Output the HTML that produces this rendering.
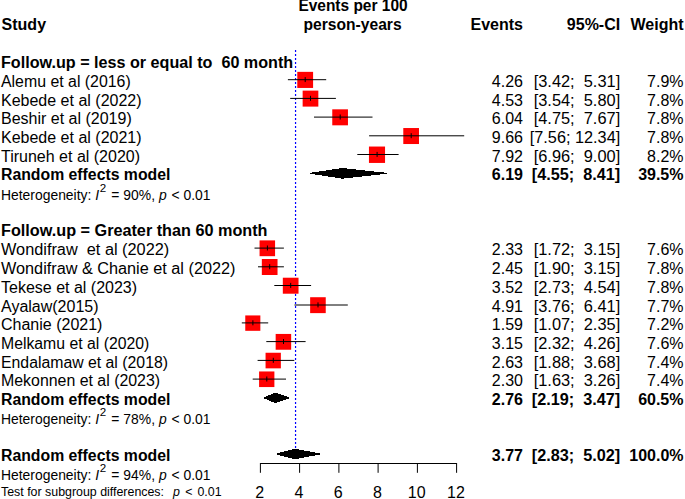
<!DOCTYPE html>
<html><head><meta charset="utf-8"><title>Forest plot</title>
<style>
html,body{margin:0;padding:0;background:#fff;}
svg{display:block;}
text{font-family:"Liberation Sans",Arial,sans-serif;font-size:16px;fill:#000;white-space:pre;}
.b{font-weight:bold;}
.e{text-anchor:end;}
.m{text-anchor:middle;}
.h{font-size:13.9px;}
.t{font-size:12.4px;}
.i{font-style:italic;}
</style></head><body>
<svg width="685" height="499" viewBox="0 0 685 499">
<rect width="685" height="499" fill="#fff"/>
<line x1="295.55" y1="50" x2="295.55" y2="456" stroke="#0000ff" stroke-width="1.2" stroke-dasharray="2 2"/>
<text class="b" x="298.4" y="11.1" textLength="109.2" lengthAdjust="spacingAndGlyphs">Events per 100</text>
<text class="b" x="303.6" y="30.00" textLength="98" lengthAdjust="spacingAndGlyphs">person-years</text>
<text class="b" x="1.6" y="30.00">Study</text>
<text class="b e" x="523.0" y="30.00">Events</text>
<text class="b e" x="620.2" y="30.00">95%-CI</text>
<text class="b e" x="683.5" y="30.00">Weight</text>
<text class="b" x="1.0" y="68.00" textLength="292.17" lengthAdjust="spacingAndGlyphs">Follow.up = less or equal to  60 month</text>
<text x="1.0" y="87.00" textLength="129.73" lengthAdjust="spacingAndGlyphs">Alemu et al (2016)</text>
<text class="e" x="523.0" y="87.00">4.26</text>
<text class="e" x="620.2" y="87.00" textLength="86.50" lengthAdjust="spacingAndGlyphs">[3.42;  5.31]</text>
<text class="e" x="683.5" y="87.00">7.9%</text>
<rect x="297.29" y="71.85" width="15.80" height="16.10" fill="#ff0000"/>
<line x1="287.9" y1="79.7" x2="326.2" y2="79.7" stroke="#000" stroke-width="1"/>
<line x1="305.2" y1="77.1" x2="305.2" y2="82.1" stroke="#000" stroke-width="1"/>
<text x="1.0" y="106.00">Kebede et al (2022)</text>
<text class="e" x="523.0" y="106.00">4.53</text>
<text class="e" x="620.2" y="106.00" textLength="86.50" lengthAdjust="spacingAndGlyphs">[3.54;  5.80]</text>
<text class="e" x="683.5" y="106.00">7.8%</text>
<rect x="302.64" y="90.61" width="15.70" height="16.00" fill="#ff0000"/>
<line x1="290.2" y1="98.4" x2="335.9" y2="98.4" stroke="#000" stroke-width="1"/>
<line x1="310.5" y1="95.8" x2="310.5" y2="100.8" stroke="#000" stroke-width="1"/>
<text x="1.0" y="124.00">Beshir et al (2019)</text>
<text class="e" x="523.0" y="124.00">6.04</text>
<text class="e" x="620.2" y="124.00" textLength="86.50" lengthAdjust="spacingAndGlyphs">[4.75;  7.67]</text>
<text class="e" x="683.5" y="124.00">7.8%</text>
<rect x="332.26" y="109.32" width="15.70" height="16.00" fill="#ff0000"/>
<line x1="314.0" y1="117.1" x2="372.5" y2="117.1" stroke="#000" stroke-width="1"/>
<line x1="340.2" y1="114.5" x2="340.2" y2="119.5" stroke="#000" stroke-width="1"/>
<text x="1.0" y="143.00">Kebede et al (2021)</text>
<text class="e" x="523.0" y="143.00">9.66</text>
<text class="e" x="620.2" y="143.00" textLength="90.40" lengthAdjust="spacingAndGlyphs">[7.56; 12.34]</text>
<text class="e" x="683.5" y="143.00">7.8%</text>
<rect x="403.29" y="128.03" width="15.70" height="16.00" fill="#ff0000"/>
<line x1="369.1" y1="135.8" x2="464.2" y2="135.8" stroke="#000" stroke-width="1"/>
<line x1="411.2" y1="133.2" x2="411.2" y2="138.2" stroke="#000" stroke-width="1"/>
<text x="1.0" y="162.00">Tiruneh et al (2020)</text>
<text class="e" x="523.0" y="162.00">7.92</text>
<text class="e" x="620.2" y="162.00" textLength="86.50" lengthAdjust="spacingAndGlyphs">[6.96;  9.00]</text>
<text class="e" x="683.5" y="162.00">8.2%</text>
<rect x="368.95" y="146.54" width="16.10" height="16.40" fill="#ff0000"/>
<line x1="357.3" y1="154.5" x2="398.6" y2="154.5" stroke="#000" stroke-width="1"/>
<line x1="377.1" y1="151.9" x2="377.1" y2="156.9" stroke="#000" stroke-width="1"/>
<text class="b" x="1.0" y="180.00" textLength="169.39" lengthAdjust="spacingAndGlyphs">Random effects model</text>
<text class="b e" x="523.0" y="180.00">6.19</text>
<text class="b e" x="620.2" y="180.00" textLength="88.35" lengthAdjust="spacingAndGlyphs">[4.55;  8.41]</text>
<text class="b e" x="683.5" y="180.00">39.5%</text>
<polygon points="310.4,173.3 342.6,168.5 386.2,173.3 342.6,178.2" fill="#000" stroke="#000" stroke-width="1" stroke-linejoin="round" shape-rendering="crispEdges"/>
<text class="h" x="1.0" y="200.00">Heterogeneity: <tspan class="i">I</tspan><tspan dy="-8.4" dx="0.8" font-size="11.6">2</tspan><tspan dy="8.4" dx="1.2"> = 90%, </tspan><tspan class="i">p</tspan><tspan dx="1"> &lt; 0.01</tspan></text>
<text class="b" x="1.0" y="236.00" textLength="266.50" lengthAdjust="spacingAndGlyphs">Follow.up = Greater than 60 month</text>
<text x="1.0" y="255.00" textLength="168.22" lengthAdjust="spacingAndGlyphs">Wondifraw  et al (2022)</text>
<text class="e" x="523.0" y="255.00">2.33</text>
<text class="e" x="620.2" y="255.00" textLength="86.50" lengthAdjust="spacingAndGlyphs">[1.72;  3.15]</text>
<text class="e" x="683.5" y="255.00">7.6%</text>
<rect x="259.57" y="240.39" width="15.50" height="15.80" fill="#ff0000"/>
<line x1="254.5" y1="248.1" x2="283.9" y2="248.1" stroke="#000" stroke-width="1"/>
<line x1="267.4" y1="245.5" x2="267.4" y2="250.5" stroke="#000" stroke-width="1"/>
<text x="1.0" y="274.00" textLength="234.44" lengthAdjust="spacingAndGlyphs">Wondifraw &amp; Chanie et al (2022)</text>
<text class="e" x="523.0" y="274.00">2.45</text>
<text class="e" x="620.2" y="274.00" textLength="86.50" lengthAdjust="spacingAndGlyphs">[1.90;  3.15]</text>
<text class="e" x="683.5" y="274.00">7.8%</text>
<rect x="261.83" y="259.00" width="15.70" height="16.00" fill="#ff0000"/>
<line x1="258.0" y1="266.8" x2="283.9" y2="266.8" stroke="#000" stroke-width="1"/>
<line x1="269.7" y1="264.2" x2="269.7" y2="269.2" stroke="#000" stroke-width="1"/>
<text x="1.0" y="293.00">Tekese et al (2023)</text>
<text class="e" x="523.0" y="293.00">3.52</text>
<text class="e" x="620.2" y="293.00" textLength="86.50" lengthAdjust="spacingAndGlyphs">[2.73;  4.54]</text>
<text class="e" x="683.5" y="293.00">7.8%</text>
<rect x="282.82" y="277.71" width="15.70" height="16.00" fill="#ff0000"/>
<line x1="274.3" y1="285.5" x2="311.1" y2="285.5" stroke="#000" stroke-width="1"/>
<line x1="290.7" y1="282.9" x2="290.7" y2="287.9" stroke="#000" stroke-width="1"/>
<text x="1.0" y="312.00">Ayalaw(2015)</text>
<text class="e" x="523.0" y="312.00">4.91</text>
<text class="e" x="620.2" y="312.00" textLength="86.50" lengthAdjust="spacingAndGlyphs">[3.76;  6.41]</text>
<text class="e" x="683.5" y="312.00">7.7%</text>
<rect x="310.14" y="297.22" width="15.60" height="15.90" fill="#ff0000"/>
<line x1="294.5" y1="305.0" x2="347.8" y2="305.0" stroke="#000" stroke-width="1"/>
<line x1="318.0" y1="302.4" x2="318.0" y2="307.4" stroke="#000" stroke-width="1"/>
<text x="1.0" y="330.00">Chanie (2021)</text>
<text class="e" x="523.0" y="330.00">1.59</text>
<text class="e" x="620.2" y="330.00" textLength="86.50" lengthAdjust="spacingAndGlyphs">[1.07;  2.35]</text>
<text class="e" x="683.5" y="330.00">7.2%</text>
<rect x="245.26" y="315.43" width="15.09" height="15.39" fill="#ff0000"/>
<line x1="241.8" y1="322.9" x2="268.2" y2="322.9" stroke="#000" stroke-width="1"/>
<line x1="252.9" y1="320.3" x2="252.9" y2="325.3" stroke="#000" stroke-width="1"/>
<text x="1.0" y="349.00" textLength="148.30" lengthAdjust="spacingAndGlyphs">Melkamu et al (2020)</text>
<text class="e" x="523.0" y="349.00">3.15</text>
<text class="e" x="620.2" y="349.00" textLength="86.50" lengthAdjust="spacingAndGlyphs">[2.32;  4.26]</text>
<text class="e" x="683.5" y="349.00">7.6%</text>
<rect x="275.66" y="333.94" width="15.50" height="15.80" fill="#ff0000"/>
<line x1="266.3" y1="341.6" x2="305.6" y2="341.6" stroke="#000" stroke-width="1"/>
<line x1="283.5" y1="339.0" x2="283.5" y2="344.0" stroke="#000" stroke-width="1"/>
<text x="1.0" y="368.00" textLength="166.98" lengthAdjust="spacingAndGlyphs">Endalamaw et al (2018)</text>
<text class="e" x="523.0" y="368.00">2.63</text>
<text class="e" x="620.2" y="368.00" textLength="86.50" lengthAdjust="spacingAndGlyphs">[1.88;  3.68]</text>
<text class="e" x="683.5" y="368.00">7.4%</text>
<rect x="265.56" y="352.75" width="15.30" height="15.60" fill="#ff0000"/>
<line x1="257.6" y1="360.4" x2="294.3" y2="360.4" stroke="#000" stroke-width="1"/>
<line x1="273.3" y1="357.8" x2="273.3" y2="362.8" stroke="#000" stroke-width="1"/>
<text x="1.0" y="386.00" textLength="159.11" lengthAdjust="spacingAndGlyphs">Mekonnen et al (2023)</text>
<text class="e" x="523.0" y="386.00">2.30</text>
<text class="e" x="620.2" y="386.00" textLength="86.50" lengthAdjust="spacingAndGlyphs">[1.63;  3.26]</text>
<text class="e" x="683.5" y="386.00">7.4%</text>
<rect x="259.09" y="371.46" width="15.30" height="15.60" fill="#ff0000"/>
<line x1="252.7" y1="379.1" x2="286.0" y2="379.1" stroke="#000" stroke-width="1"/>
<line x1="266.8" y1="376.5" x2="266.8" y2="381.5" stroke="#000" stroke-width="1"/>
<text class="b" x="1.0" y="405.00" textLength="169.39" lengthAdjust="spacingAndGlyphs">Random effects model</text>
<text class="b e" x="523.0" y="405.00">2.76</text>
<text class="b e" x="620.2" y="405.00" textLength="88.35" lengthAdjust="spacingAndGlyphs">[2.19;  3.47]</text>
<text class="b e" x="683.5" y="405.00">60.5%</text>
<polygon points="264.1,397.9 275.3,393.1 289.2,397.9 275.3,402.7" fill="#000" stroke="#000" stroke-width="1" stroke-linejoin="round" shape-rendering="crispEdges"/>
<text class="h" x="1.0" y="424.00">Heterogeneity: <tspan class="i">I</tspan><tspan dy="-8.4" dx="0.8" font-size="11.6">2</tspan><tspan dy="8.4" dx="1.2"> = 78%, </tspan><tspan class="i">p</tspan><tspan dx="1"> &lt; 0.01</tspan></text>
<text class="b" x="1.0" y="461.00" textLength="169.39" lengthAdjust="spacingAndGlyphs">Random effects model</text>
<text class="b e" x="523.0" y="461.00">3.77</text>
<text class="b e" x="620.2" y="461.00" textLength="88.35" lengthAdjust="spacingAndGlyphs">[2.83;  5.02]</text>
<text class="b e" x="683.5" y="461.00">100.0%</text>
<polygon points="276.7,454.0 295.1,449.2 319.7,454.0 295.1,458.8" fill="#000" stroke="#000" stroke-width="1" stroke-linejoin="round" shape-rendering="crispEdges"/>
<text class="h" x="1.0" y="480.00">Heterogeneity: <tspan class="i">I</tspan><tspan dy="-8.4" dx="0.8" font-size="11.6">2</tspan><tspan dy="8.4" dx="1.2"> = 94%, </tspan><tspan class="i">p</tspan><tspan dx="1"> &lt; 0.01</tspan></text>
<text class="t" x="1.0" y="496.00">Test for subgroup differences:  <tspan class="i" dx="2">p</tspan><tspan dx="2"> &lt;</tspan><tspan dx="1.5"> 0.01</tspan></text>
<path d="M260.4 463.5H456.6" stroke="#000" stroke-width="1" fill="none"/>
<line x1="260.4" y1="463" x2="260.4" y2="472.8" stroke="#000" stroke-width="1"/>
<text class="m" x="259.7" y="497.6">2</text>
<line x1="299.6" y1="463" x2="299.6" y2="472.8" stroke="#000" stroke-width="1"/>
<text class="m" x="298.9" y="497.6">4</text>
<line x1="338.9" y1="463" x2="338.9" y2="472.8" stroke="#000" stroke-width="1"/>
<text class="m" x="338.2" y="497.6">6</text>
<line x1="378.1" y1="463" x2="378.1" y2="472.8" stroke="#000" stroke-width="1"/>
<text class="m" x="377.4" y="497.6">8</text>
<line x1="417.4" y1="463" x2="417.4" y2="472.8" stroke="#000" stroke-width="1"/>
<text class="m" x="416.7" y="497.6">10</text>
<line x1="456.6" y1="463" x2="456.6" y2="472.8" stroke="#000" stroke-width="1"/>
<text class="m" x="455.9" y="497.6">12</text>
</svg></body></html>
